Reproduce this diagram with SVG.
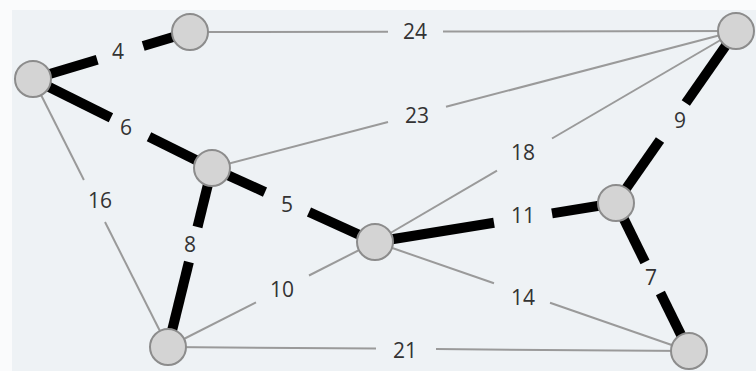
<svg xmlns="http://www.w3.org/2000/svg" width="756" height="371" viewBox="0 0 756 371">
<style>
.bg{fill:#eef2f5}
.thin{stroke:#9a9a9a;stroke-width:2;fill:none}
.thick{stroke:#000;stroke-width:10;fill:none}
.node{fill:#d4d4d4;stroke:#8c8c8c;stroke-width:2}
.lbl{font-family:"Open Sans","DejaVu Sans",sans-serif;font-size:21px;fill:#333;text-anchor:middle;dominant-baseline:central}
</style>
<rect width="756" height="371" fill="#fafbfc"/>
<rect class="bg" x="12" y="10" width="744" height="361"/>
<g id="connectors">
<line class="thick" x1="33" y1="79" x2="97.2" y2="59.8"/>
<line class="thick" x1="143.2" y1="46" x2="190" y2="32"/>
<line class="thin" x1="190" y1="32" x2="388" y2="31.7"/>
<line class="thin" x1="443" y1="31.6" x2="736" y2="31"/>
<line class="thick" x1="33" y1="79" x2="110.9" y2="117.7"/>
<line class="thick" x1="149" y1="136.7" x2="212" y2="168"/>
<line class="thin" x1="212" y1="168" x2="388" y2="122"/>
<line class="thin" x1="446" y1="106.8" x2="736" y2="31"/>
<line class="thin" x1="33" y1="79" x2="83.9" y2="180"/>
<line class="thin" x1="105" y1="222" x2="168" y2="347"/>
<line class="thin" x1="375" y1="242" x2="497" y2="170.7"/>
<line class="thin" x1="552" y1="138.5" x2="736" y2="31"/>
<line class="thick" x1="736" y1="31" x2="685.8" y2="103"/>
<line class="thick" x1="660" y1="140" x2="616" y2="203"/>
<line class="thick" x1="212" y1="168" x2="265" y2="192.1"/>
<line class="thick" x1="309" y1="212" x2="375" y2="242"/>
<line class="thick" x1="212" y1="168" x2="197.5" y2="227"/>
<line class="thick" x1="188.9" y1="262" x2="168" y2="347"/>
<line class="thick" x1="375" y1="242" x2="494" y2="222.7"/>
<line class="thick" x1="552" y1="213.4" x2="616" y2="203"/>
<line class="thin" x1="168" y1="347" x2="256" y2="302.4"/>
<line class="thin" x1="309" y1="275.5" x2="375" y2="242"/>
<line class="thin" x1="375" y1="242" x2="494" y2="283.3"/>
<line class="thin" x1="550" y1="302.7" x2="689" y2="351"/>
<line class="thick" x1="616" y1="203" x2="645" y2="262"/>
<line class="thick" x1="660.4" y1="293" x2="689" y2="351"/>
<line class="thin" x1="168" y1="347" x2="376" y2="348.6"/>
<line class="thin" x1="436" y1="349.1" x2="689" y2="351"/>
</g>
<g id="labels">
<text class="lbl" x="118" y="51">4</text>
<text class="lbl" x="415" y="31">24</text>
<text class="lbl" x="126" y="127">6</text>
<text class="lbl" x="417" y="115">23</text>
<text class="lbl" x="100" y="200">16</text>
<text class="lbl" x="523" y="152">18</text>
<text class="lbl" x="680" y="120">9</text>
<text class="lbl" x="287" y="204">5</text>
<text class="lbl" x="190" y="244">8</text>
<text class="lbl" x="523" y="215">11</text>
<text class="lbl" x="282" y="289">10</text>
<text class="lbl" x="523" y="297">14</text>
<text class="lbl" x="651" y="277">7</text>
<text class="lbl" x="405" y="350">21</text>
</g>
<g id="nA"><circle class="node" cx="190" cy="32" r="18"/></g>
<g id="nB"><circle class="node" cx="33" cy="79" r="18"/></g>
<g id="nC"><circle class="node" cx="736" cy="31" r="18"/></g>
<g id="nD"><circle class="node" cx="212" cy="168" r="18"/></g>
<g id="nE"><circle class="node" cx="375" cy="242" r="18"/></g>
<g id="nF"><circle class="node" cx="616" cy="203" r="18"/></g>
<g id="nG"><circle class="node" cx="168" cy="347" r="18"/></g>
<g id="nH"><circle class="node" cx="689" cy="351" r="18"/></g>
</svg>
